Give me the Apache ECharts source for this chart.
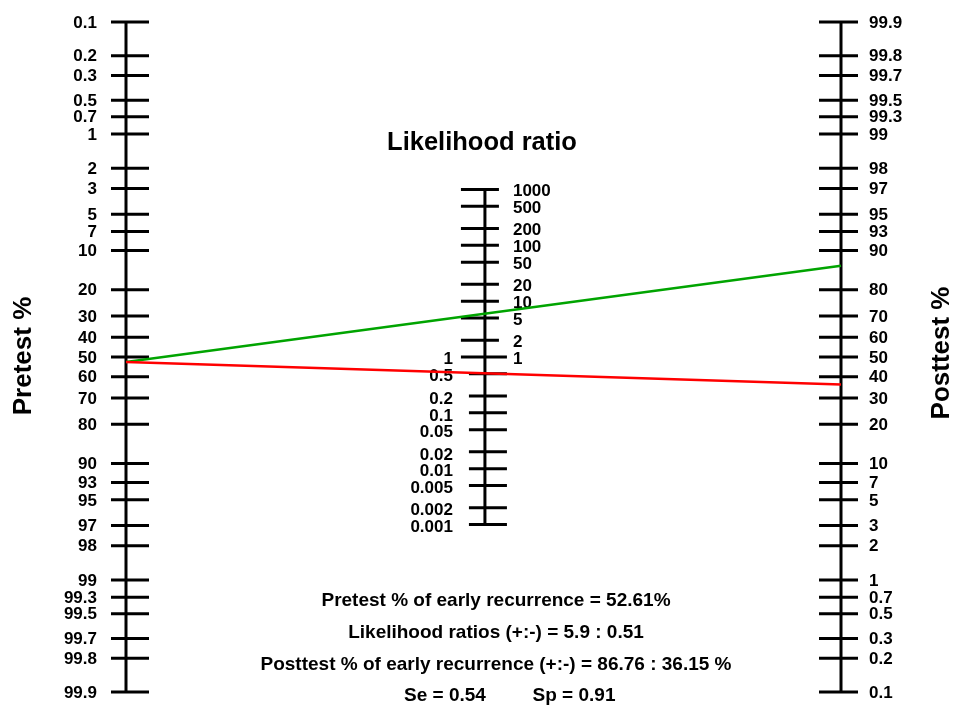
<!DOCTYPE html>
<html>
<head>
<meta charset="utf-8">
<script src="https://cdn.jsdelivr.net/npm/echarts@6/dist/echarts.min.js"></script>
<style>
  html, body { margin: 0; padding: 0; background: #fff; }
  #chart { width: 955px; height: 708px; }
</style>
</head>
<body>
<div id="chart"></div>
<script>
// Fagan nomogram: pretest probability, likelihood ratio, posttest probability
const pretestTicks = [0.1, 0.2, 0.3, 0.5, 0.7, 1, 2, 3, 5, 7, 10, 20, 30, 40, 50, 60, 70, 80, 90, 93, 95, 97, 98, 99, 99.3, 99.5, 99.7, 99.8, 99.9];
const posttestTicks = [99.9, 99.8, 99.7, 99.5, 99.3, 99, 98, 97, 95, 93, 90, 80, 70, 60, 50, 40, 30, 20, 10, 7, 5, 3, 2, 1, 0.7, 0.5, 0.3, 0.2, 0.1];
const lrTicks = [1000, 500, 200, 100, 50, 20, 10, 5, 2, 1, 0.5, 0.2, 0.1, 0.05, 0.02, 0.01, 0.005, 0.002, 0.001];

const pretest = 52.61;          // %
const lrPositive = 5.9;
const lrNegative = 0.51;
const posttestPositive = 86.76; // %
const posttestNegative = 36.15; // %
const sensitivity = 0.54;
const specificity = 0.91;

// Common vertical coordinate in logit units
const logit = p => Math.log((p / 100) / (1 - p / 100));
const pretestU = p => -logit(p);
const posttestU = p => logit(p);
const lrU = lr => 0.5 * Math.log(lr);
const U_MAX = logit(99.9);

const LEFT_X = 0, MID_X = 0.502, RIGHT_X = 1;
const FONT = "'Liberation Sans', Arial, Helvetica, sans-serif";

// Tick marks with their labels, drawn through the grid's coordinate system
function tickSeries(items) {
  return {
    type: 'custom',
    silent: true,
    clip: false,
    z: 5,
    data: items.map(it => [it.x, it.u]),
    renderItem: function (params, api) {
      const it = items[params.dataIndex];
      const p = api.coord([api.value(0), api.value(1)]);
      const children = [{
        type: 'line',
        shape: { x1: p[0] + it.t0, y1: p[1], x2: p[0] + it.t1, y2: p[1] },
        style: { stroke: '#000', lineWidth: 3 }
      }];
      it.labels.forEach(lb => {
        children.push({
          type: 'text',
          style: {
            x: p[0] + lb.dx, y: p[1] + (lb.dy || 1),
            text: lb.text,
            align: lb.align, verticalAlign: 'middle',
            font: 'bold 17px ' + FONT,
            fill: '#000'
          }
        });
      });
      return { type: 'group', children: children };
    }
  };
}

const leftItems = pretestTicks.map(v => ({
  x: LEFT_X, u: pretestU(v), t0: -15, t1: 23,
  labels: [{ text: String(v), dx: -29, align: 'right' }]
}));
const rightItems = posttestTicks.map(v => ({
  x: RIGHT_X, u: posttestU(v), t0: -22, t1: 17,
  labels: [{ text: String(v), dx: 28, align: 'left' }]
}));
const midItems = lrTicks.map(v => {
  const labels = [];
  if (v >= 1) labels.push({ text: String(v), dx: 28, align: 'left', dy: 2 });
  if (v <= 1) labels.push({ text: String(v), dx: -32, align: 'right', dy: v < 1 ? 3 : 2 });
  return {
    x: MID_X, u: lrU(v),
    t0: v >= 1 ? -24 : -16,
    t1: v <= 1 ? 22 : 14,
    labels: labels
  };
});

function axisLine(x, u0, u1) {
  return {
    type: 'line', silent: true, symbol: 'none', z: 4,
    data: [[x, u0], [x, u1]],
    lineStyle: { color: '#000', width: 3 }
  };
}

function resultLine(post, color) {
  return {
    type: 'line', silent: true, symbol: 'none', z: 6,
    data: [[LEFT_X, pretestU(pretest)], [RIGHT_X, posttestU(post)]],
    lineStyle: { color: color, width: 2.5 }
  };
}

const chart = echarts.init(document.getElementById('chart'), null, { renderer: 'canvas' });

const textStyle = (size) => ({ font: 'bold ' + size + 'px ' + FONT, fill: '#000' });

chart.setOption({
  animation: false,
  backgroundColor: '#fff',
  grid: { left: 126, right: 114, top: 22, bottom: 16 },
  xAxis: { type: 'value', min: 0, max: 1, show: false },
  yAxis: { type: 'value', min: -U_MAX, max: U_MAX, show: false },
  series: [
    axisLine(LEFT_X, pretestU(pretestTicks[0]), pretestU(pretestTicks[pretestTicks.length - 1])),
    axisLine(RIGHT_X, posttestU(posttestTicks[0]), posttestU(posttestTicks[posttestTicks.length - 1])),
    axisLine(MID_X, lrU(lrTicks[0]), lrU(lrTicks[lrTicks.length - 1])),
    tickSeries(leftItems),
    tickSeries(rightItems),
    tickSeries(midItems),
    resultLine(posttestPositive, '#00a400'),
    resultLine(posttestNegative, '#ff0000')
  ],
  graphic: [
    { type: 'text', x: 482, y: 143, style: Object.assign({ text: 'Likelihood ratio', align: 'center', verticalAlign: 'middle' }, textStyle(25.5)) },
    { type: 'text', x: 24, y: 356, rotation: Math.PI / 2, style: Object.assign({ text: 'Pretest %', align: 'center', verticalAlign: 'middle' }, textStyle(26)) },
    { type: 'text', x: 942, y: 353, rotation: Math.PI / 2, style: Object.assign({ text: 'Posttest %', align: 'center', verticalAlign: 'middle' }, textStyle(26)) },
    { type: 'text', x: 496, y: 601, style: Object.assign({ text: 'Pretest % of early recurrence = ' + pretest.toFixed(2) + '%', align: 'center', verticalAlign: 'middle' }, textStyle(19)) },
    { type: 'text', x: 496, y: 633, style: Object.assign({ text: 'Likelihood ratios (+:-) = ' + lrPositive + ' : ' + lrNegative, align: 'center', verticalAlign: 'middle' }, textStyle(19)) },
    { type: 'text', x: 496, y: 665, style: Object.assign({ text: 'Posttest % of early recurrence (+:-) = ' + posttestPositive.toFixed(2) + ' : ' + posttestNegative.toFixed(2) + ' %', align: 'center', verticalAlign: 'middle' }, textStyle(19)) },
    { type: 'text', x: 445, y: 696, style: Object.assign({ text: 'Se = ' + sensitivity.toFixed(2), align: 'center', verticalAlign: 'middle' }, textStyle(19)) },
    { type: 'text', x: 574, y: 696, style: Object.assign({ text: 'Sp = ' + specificity.toFixed(2), align: 'center', verticalAlign: 'middle' }, textStyle(19)) }
  ]
});
</script>
</body>
</html>
